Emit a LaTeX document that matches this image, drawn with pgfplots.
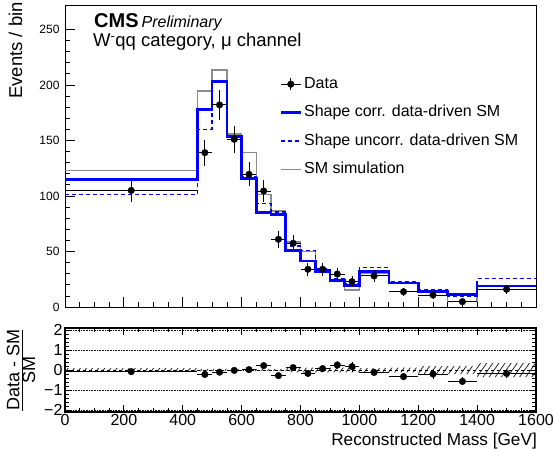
\documentclass[border=0pt]{standalone}
\usepackage{fontspec}
\setmainfont{Liberation Sans}
\usepackage{pgfplots}
\pgfplotsset{compat=1.18}
\usetikzlibrary{patterns.meta}

\definecolor{smblue}{RGB}{0,0,255}
\definecolor{smgray}{RGB}{140,140,140}

% bin edges, value repeated at the last edge for const plot
\pgfplotstableread{
x     corr   uncorr  sim
0     115    101.5   123
450   178    160     194.6
500   203    204     213.5
550   153.5  154.5   156
600   116    117.5   139
650   85     93      101.5
700   83.5   85.5    86.5
750   50.7   55      58.5
800   41.5   50.7    50
850   31.8   34.8    33
900   24     25.8    24
950   19.3   21.3    15.3
1000  32     35.4    30
1100  21.5   22.8    21.5
1200  14     15.3    13
1300  11     9.9     4.8
1400  19     25.8    16
1600  19     25.8    16
}\hists

\pgfplotstableread{
x     y      ex    ey     r      er
225   105    225   10.2   -0.08  0.09
475   139    25    11.8   -0.22  0.07
525   182    25    13.5   -0.11  0.07
575   151    25    12.3   -0.02  0.08
625   119.5  25    10.9   0.02   0.09
675   104.5  25    10.2   0.22   0.12
725   61     25    7.8    -0.28  0.09
775   57.4   25    7.6    0.12   0.15
825   34     25    5.8    -0.17  0.14
875   34     25    5.8    0.07   0.18
925   29.7   25    5.4    0.25   0.22
975   22.8   25    4.8    0.17   0.25
1050  28     50    5.3    -0.12  0.17
1150  13.8   50    3.7    -0.33  0.17
1250  10.8   50    3.3    -0.20  0.24
1350  4.8    50    2.2    -0.57  0.20
1500  16     100   4      -0.17  0.21
}\data

\begin{document}
\begin{tikzpicture}[x=1pt,y=1pt]
\useasboundingbox (0,0) rectangle (553,-448);

\begin{axis}[
  name=main, at={(65pt,-5pt)}, anchor=north west,
  scale only axis, width=471pt, height=302pt,
  xmin=0, xmax=1600, ymin=0, ymax=272,
  xtick={0,200,...,1600}, minor x tick num=3, xticklabels={},
  ytick={0,50,...,250}, minor y tick num=4,
  tick pos=left, tick align=inside,
  major tick length=10pt, minor tick length=5pt,
  tick style={black, line width=0.8pt},
  axis line style={black, line width=1pt},
  /pgf/number format/assume math mode=true,
  /pgf/number format/1000 sep={},
  tick label style={font=\fontsize{12}{12}\selectfont},
  yticklabel style={xshift=-2pt},
  legend style={at={(rel axis cs:0.455,0.77)}, anchor=north west,
    draw=none, fill=none, inner sep=0pt, row sep=9.5pt,
    font=\fontsize{16}{16}\selectfont,
    nodes={inner sep=2pt, text height=11.5pt, text depth=3.5pt}},
  legend cell align=left,
  legend image code/.code={\draw[#1] (0pt,0pt) -- (20pt,0pt);},
]
\addplot[smgray, line width=1.4pt, const plot mark left, forget plot]
  table[x=x, y=sim] {\hists};
\addplot[smblue, line width=1.4pt, dash pattern=on 4pt off 3pt,
  const plot mark left, forget plot] table[x=x, y=uncorr] {\hists};
\addplot[smblue, line width=2.6pt, const plot mark left, forget plot]
  table[x=x, y=corr] {\hists};

\addplot[black, only marks, mark=*, mark size=3.3pt,
  legend image code/.code={
    \draw[black, line width=0.9pt] (0pt,0pt) -- (20pt,0pt);
    \draw[black, line width=0.9pt] (10pt,-6pt) -- (10pt,6pt);
    \fill[black] (10pt,0pt) circle (3.3pt);},
  error bars/.cd, x dir=both, x explicit, y dir=both, y explicit,
  error mark=none, error bar style={black, line width=0.9pt}]
  table[x=x, y=y, x error=ex, y error=ey] {\data};
\addlegendentry{Data}
\addlegendimage{smblue, line width=2.6pt}
\addlegendentry{Shape corr. data-driven SM}
\addlegendimage{smblue, line width=1.4pt, dash pattern=on 4pt off 3pt}
\addlegendentry{Shape uncorr. data-driven SM}
\addlegendimage{smgray, line width=1.4pt}
\addlegendentry{SM simulation}

\node[anchor=base west, inner sep=0pt] at (rel axis cs:0.0616,0.924)
  {\fontsize{20}{20}\selectfont\bfseries CMS\hspace{3pt}\fontsize{16}{16}\selectfont\mdseries\itshape Preliminary};
\node[anchor=base west, inner sep=0pt, font=\fontsize{18.5}{18.5}\selectfont]
  at (rel axis cs:0.0594,0.861) {W\textsuperscript{-}qq category, μ channel};
\end{axis}

\node[rotate=90, anchor=base east, inner sep=0pt, font=\fontsize{18.5}{18.5}\selectfont]
  at ([xshift=-43pt, yshift=3pt]main.north west) {Events / bin};

\begin{axis}[
  name=ratio, at={(65pt,-328pt)}, anchor=north west,
  scale only axis, width=471pt, height=84pt,
  xmin=0, xmax=1600, ymin=-2.1, ymax=2.1,
  xtick={0,200,...,1600}, minor x tick num=3,
  ytick={-2,-1,0,1,2}, yticklabels={−2,−1,0,1,2}, minor y tick num=4,
  tick align=inside,
  major tick length=7pt, minor tick length=4pt,
  tick style={black, line width=0.8pt},
  axis line style={black, line width=1.4pt},
  /pgf/number format/assume math mode=true,
  /pgf/number format/1000 sep={},
  tick label style={font=\fontsize{16}{16}\selectfont},
  yticklabel style={xshift=1pt},
  xticklabel style={yshift=1pt},
]
\addplot[draw=none, pattern={Lines[angle=55, distance=5pt, line width=0.8pt]}, pattern color=black!85]
  coordinates {(0,0.1) (450,0.1) (450,0.06) (750,0.06) (750,0.12) (1000,0.12)
    (1000,0.1) (1100,0.1) (1100,0.12) (1200,0.12) (1200,0.2) (1400,0.2)
    (1400,0.35) (1600,0.35) (1600,-0.35) (1400,-0.35) (1400,-0.2) (1200,-0.2)
    (1200,-0.12) (1100,-0.12) (1100,-0.1) (1000,-0.1) (1000,-0.12) (750,-0.12)
    (750,-0.06) (450,-0.06) (450,-0.1) (0,-0.1)} -- cycle;
\addplot[black, line width=0.6pt, densely dotted] coordinates {(0,1) (1600,1)};
\addplot[black, line width=0.6pt, densely dotted] coordinates {(0,-1) (1600,-1)};
\addplot[black, line width=0.6pt, densely dotted] coordinates {(0,2) (1600,2)};
\addplot[black, line width=0.6pt, densely dotted] coordinates {(0,-2) (1600,-2)};
\addplot[black, line width=0.6pt, dashed] coordinates {(0,0) (1600,0)};
\addplot[black, only marks, mark=*, mark size=3.3pt,
  error bars/.cd, x dir=both, x explicit, y dir=both, y explicit,
  error mark=none, error bar style={black, line width=0.9pt}]
  table[x=x, y=r, x error=ex, y error=er] {\data};
\end{axis}

\node[rotate=90, anchor=center, inner sep=0pt]
  at ([xshift=-44pt]ratio.west)
  {\fontsize{18}{18}\selectfont$\frac{\mbox{Data - SM}}{\mbox{SM}}$};
\node[anchor=base east, inner sep=0pt, font=\fontsize{17.2}{17.2}\selectfont]
  at ([xshift=1pt, yshift=-33pt]ratio.south east) {Reconstructed Mass [GeV]};
\end{tikzpicture}
\end{document}
